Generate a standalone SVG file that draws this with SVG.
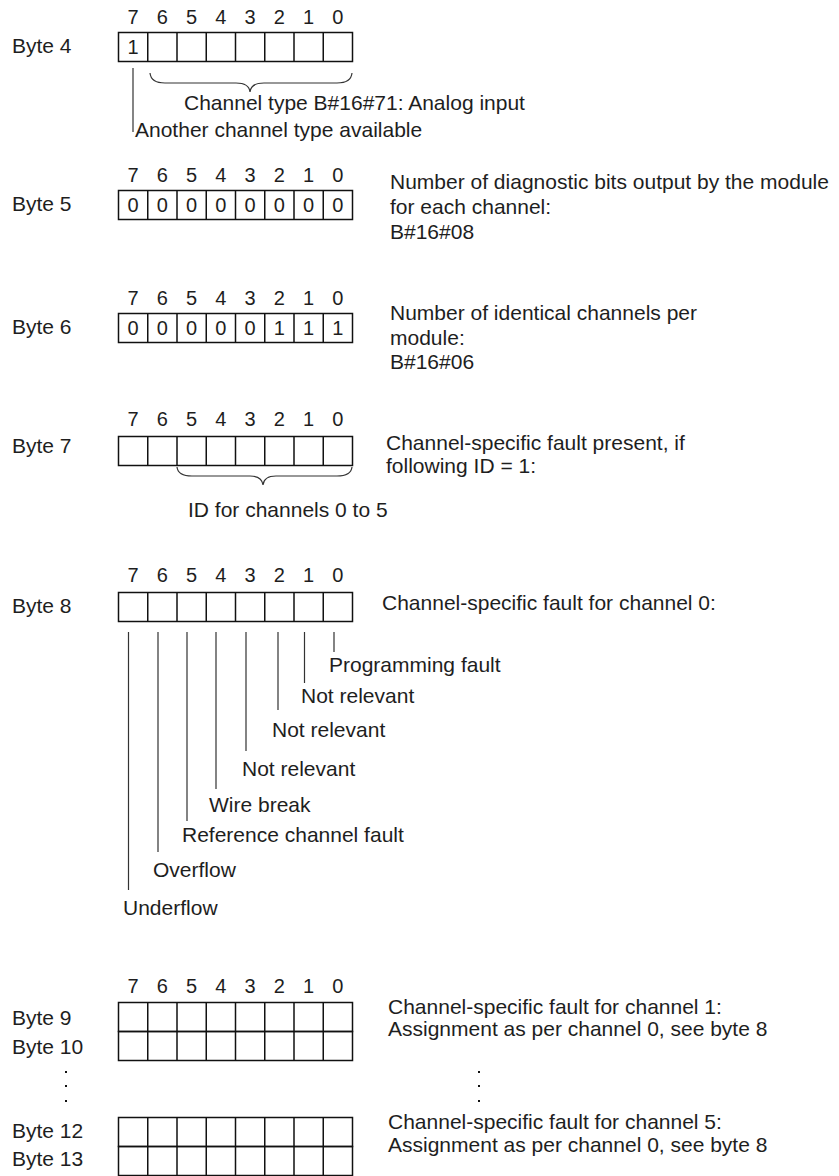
<svg xmlns="http://www.w3.org/2000/svg" xmlns:xlink="http://www.w3.org/1999/xlink" width="839" height="1176" viewBox="0 0 839 1176">
<style>
text{font-family:"Liberation Sans",Arial,sans-serif;fill:#1e1e1e}
.t{font-size:21px}
.d{font-size:20px;text-anchor:middle}
.box{fill:none;stroke:#111;stroke-width:1.5}
.ln{fill:none;stroke:#333;stroke-width:1.2}
.dot{fill:#111}
</style>
<defs>
<g id="row">
<rect x="118.5" y="0" width="234" height="29" class="box"/>
<path class="box" d="M147.75 0V29M177 0V29M206.25 0V29M235.5 0V29M264.75 0V29M294 0V29M323.25 0V29"/>
</g>
</defs>
<rect width="839" height="1176" fill="#fff"/>

<g id="byte4">
<text class="d" x="133.1 162.4 191.6 220.9 250.1 279.4 308.6 337.9" y="24">76543210</text>
<use xlink:href="#row" y="32.5"/>
<text class="t" x="12" y="53">Byte 4</text>
<text class="d" x="133.1" y="54">1</text>
<text class="t" x="184" y="110">Channel type B#16#71: Analog input</text>
<text class="t" x="135" y="137">Another channel type available</text>
</g>

<g id="byte5">
<text class="d" x="133.1 162.4 191.6 220.9 250.1 279.4 308.6 337.9" y="182">76543210</text>
<use xlink:href="#row" y="190.5"/>
<text class="t" x="12" y="211">Byte 5</text>
<text class="d" x="133.1 162.4 191.6 220.9 250.1 279.4 308.6 337.9" y="212">00000000</text>
<text class="t" x="390" y="189">Number of diagnostic bits output by the module</text>
<text class="t" x="390" y="214">for each channel:</text>
<text class="t" x="390" y="239">B#16#08</text>
</g>

<g id="byte6">
<text class="d" x="133.1 162.4 191.6 220.9 250.1 279.4 308.6 337.9" y="305">76543210</text>
<use xlink:href="#row" y="313.5"/>
<text class="t" x="12" y="334">Byte 6</text>
<text class="d" x="133.1 162.4 191.6 220.9 250.1 279.4 308.6 337.9" y="335">00000111</text>
<text class="t" x="390" y="320">Number of identical channels per</text>
<text class="t" x="390" y="345">module:</text>
<text class="t" x="390" y="369">B#16#06</text>
</g>

<g id="byte7">
<text class="d" x="133.1 162.4 191.6 220.9 250.1 279.4 308.6 337.9" y="426">76543210</text>
<use xlink:href="#row" y="436.5"/>
<text class="t" x="12" y="453">Byte 7</text>
<text class="t" x="386" y="450">Channel-specific fault present, if</text>
<text class="t" x="386" y="473">following ID = 1:</text>
<text class="t" x="188" y="517">ID for channels 0 to 5</text>
</g>

<g id="byte8">
<text class="d" x="133.1 162.4 191.6 220.9 250.1 279.4 308.6 337.9" y="582">76543210</text>
<use xlink:href="#row" y="592.5"/>
<text class="t" x="12" y="613">Byte 8</text>
<text class="t" x="382" y="610">Channel-specific fault for channel 0:</text>
<text class="t" x="329" y="672">Programming fault</text>
<text class="t" x="301" y="703">Not relevant</text>
<text class="t" x="272" y="737">Not relevant</text>
<text class="t" x="242" y="776">Not relevant</text>
<text class="t" x="209" y="812">Wire break</text>
<text class="t" x="182" y="842">Reference channel fault</text>
<text class="t" x="153" y="877">Overflow</text>
<text class="t" x="123" y="915">Underflow</text>
</g>

<g id="byte9-10">
<text class="d" x="133.1 162.4 191.6 220.9 250.1 279.4 308.6 337.9" y="993">76543210</text>
<use xlink:href="#row" y="1002.5"/>
<use xlink:href="#row" y="1031.5"/>
<text class="t" x="12" y="1025">Byte 9</text>
<text class="t" x="12" y="1054">Byte 10</text>
<text class="t" x="388" y="1014">Channel-specific fault for channel 1:</text>
<text class="t" x="388" y="1036">Assignment as per channel 0, see byte 8</text>
</g>

<g id="byte12-13">
<use xlink:href="#row" y="1117.5"/>
<use xlink:href="#row" y="1146.5"/>
<text class="t" x="12" y="1138">Byte 12</text>
<text class="t" x="12" y="1166">Byte 13</text>
<text class="t" x="388" y="1129">Channel-specific fault for channel 5:</text>
<text class="t" x="388" y="1152">Assignment as per channel 0, see byte 8</text>
</g>

<g id="ellipsis">
<rect class="dot" x="65" y="1071" width="2" height="2"/>
<rect class="dot" x="65" y="1085" width="2" height="2"/>
<rect class="dot" x="65" y="1100" width="2" height="2"/>
<rect class="dot" x="478" y="1071" width="2" height="2"/>
<rect class="dot" x="478" y="1085" width="2" height="2"/>
<rect class="dot" x="478" y="1100" width="2" height="2"/>
</g>

<g id="connectors">
<path class="ln" d="M150 73Q151 83 165 83L236 83Q249 83 250 92Q251 83 264 83L337 83Q351 83 352 73"/>
<path class="ln" d="M133 68V132"/>
<path class="ln" d="M177 467Q178 476 192 476L250 476Q262 476 263 485Q264 476 276 476L337 476Q351 476 352 467"/>
<path class="ln" d="M128.5 632V890M158 632V852M187 632V821M216 632V789M246 632V751M278 632V710M304.5 632V683M334 632V652"/>
</g>
</svg>
